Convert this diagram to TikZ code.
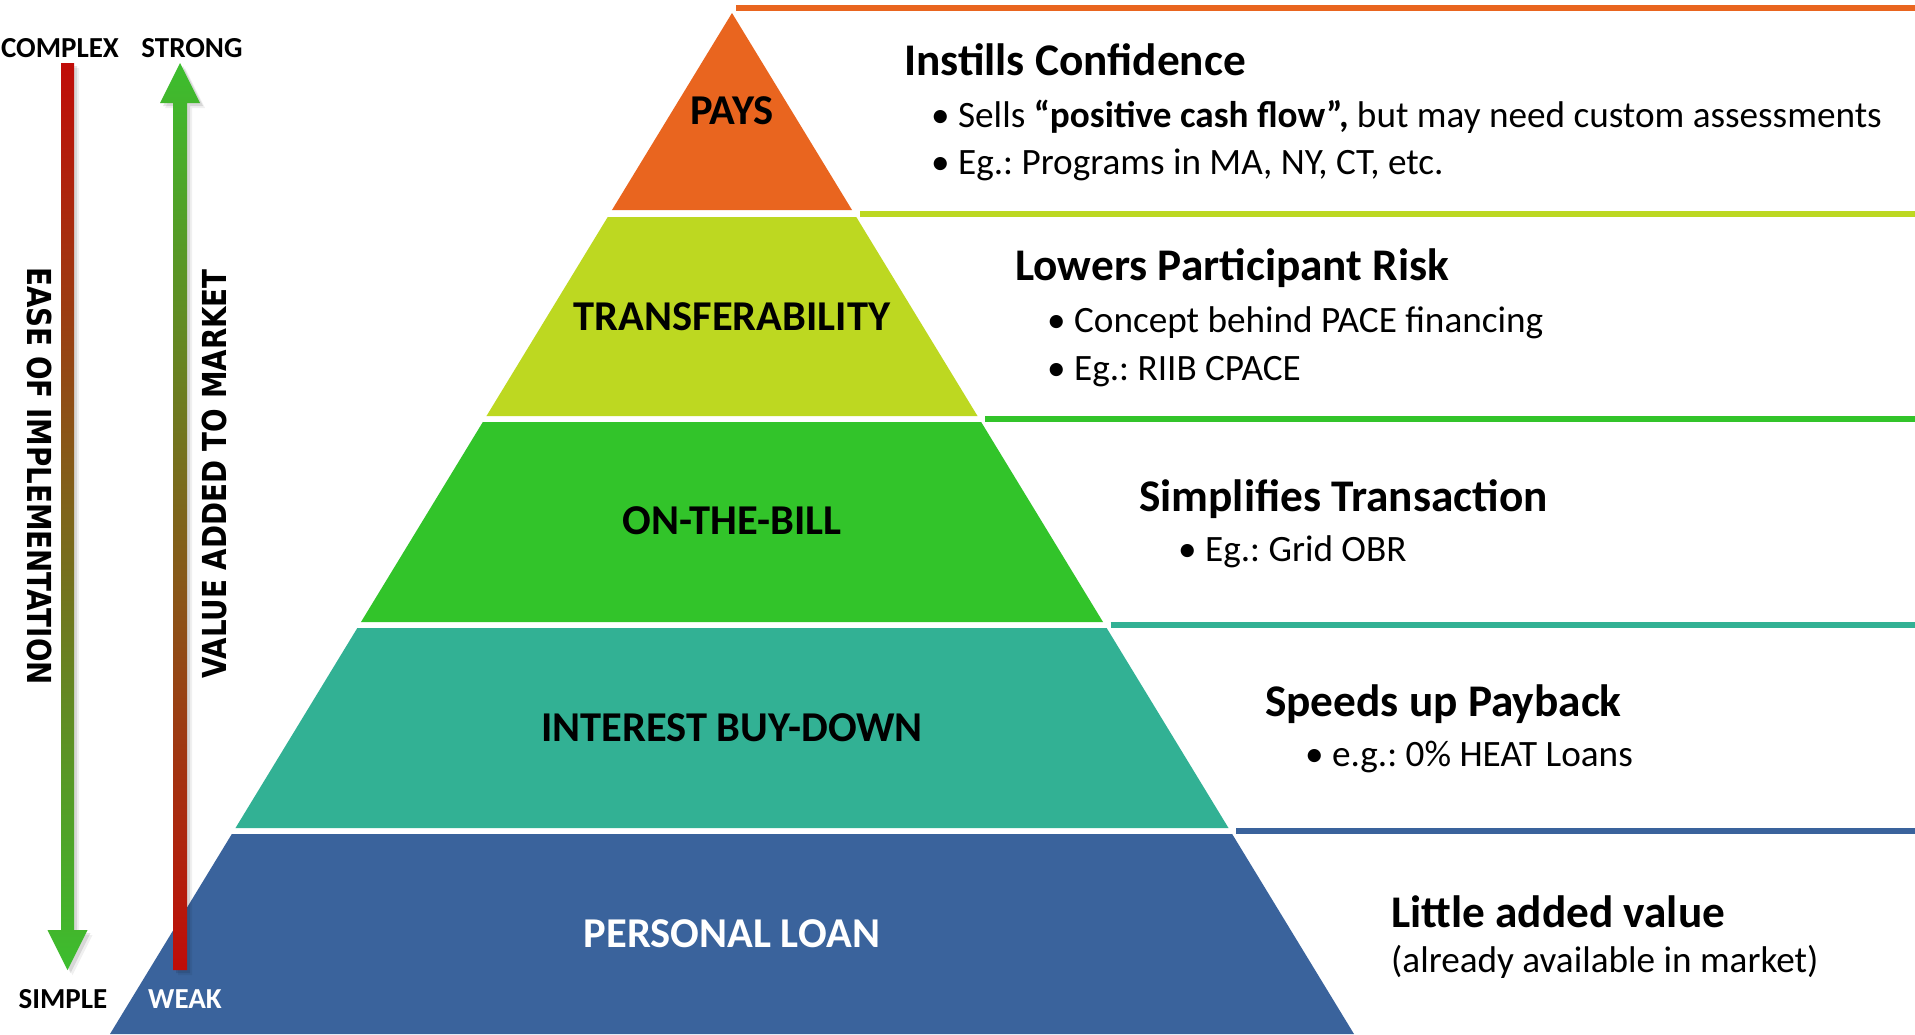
\documentclass[tikz,border=0pt]{standalone}
\usepackage{graphicx}
\usepackage{fontspec}
\setmainfont{Carlito}
\newfontfamily\dvs{DejaVu Sans}
\definecolor{cOrange}{RGB}{233,101,31}
\definecolor{cLime}{RGB}{189,216,33}
\definecolor{cGreen}{RGB}{50,196,42}
\definecolor{cTeal}{RGB}{50,177,148}
\definecolor{cBlue}{RGB}{58,99,156}
\definecolor{aRed}{RGB}{192,12,8}
\definecolor{aGreen}{RGB}{60,190,46}
\tikzset{
  lbl/.style={font=\fontsize{42.5}{50}\selectfont\bfseries, inner sep=0pt, anchor=base},
  headtxt/.style={font=\fontsize{45.3}{52}\selectfont\bfseries, inner sep=0pt, anchor=base west},
  bul/.style={font=\fontsize{37.2}{44}\selectfont, inner sep=0pt, anchor=base west},
  corner/.style={font=\fontsize{29}{34}\selectfont\bfseries, inner sep=0pt, anchor=base},
  vert/.style={font=\dvs\fontsize{33}{40}\selectfont\bfseries, inner sep=0pt},
  shadowA/.style={fill=black, opacity=0.10},
  shadowB/.style={fill=black, opacity=0.06},
}
\begin{document}
\frenchspacing
\begin{tikzpicture}[x=1pt,y=-1pt]
\useasboundingbox (0,0) rectangle (1915,1034);
\fill[white] (0,0) rectangle (1915,1034);

% pyramid layers and their right-hand rules
\foreach \col/\t/\b/\ly in {cOrange/13/210/8, cLime/217/416/214, cGreen/422/622/419, cTeal/628/828/625, cBlue/834/1034/831}{
  \pgfmathsetmacro\xlt{732-0.6092*(\t-13)}
  \pgfmathsetmacro\xrt{732+0.6092*(\t-13)}
  \pgfmathsetmacro\xlb{732-0.6092*(\b-13)}
  \pgfmathsetmacro\xrb{732+0.6092*(\b-13)}
  \fill[\col] (\xlt,\t) -- (\xrt,\t) -- (\xrb,\b) -- (\xlb,\b) -- cycle;
  \draw[\col, line width=6pt] (\xrt+4,\ly) -- (1915,\ly);
}

% pyramid labels
\node[lbl] (pays) at (732,124) {PAYS};
\node[lbl] (transf) at (732,330) {TRANSFERABILITY};
\node[lbl] (otb) at (732,534) {ON-THE-BILL};
\node[lbl] (ibd) at (732,741) {INTEREST BUY-DOWN};
\node[lbl, text=white] (pl) at (732,947) {PERSONAL LOAN};

% right-hand descriptions
\node[headtxt] (h1) at (904,75) {Instills Confidence};
\node[bul] (b11) at (931,127) {\textbullet\ Sells \textbf{“positive cash flow”,} but may need custom assessments};
\node[bul] (b12) at (931,174) {\textbullet\ Eg.: Programs in MA, NY, CT, etc.};
\node[headtxt] (h2) at (1015,280) {Lowers Participant Risk};
\node[bul] (b21) at (1047,332) {\textbullet\ Concept behind PACE financing};
\node[bul] (b22) at (1047,380) {\textbullet\ Eg.: RIIB CPACE};
\node[headtxt] (h3) at (1139,511) {Simplifies Transaction};
\node[bul] (b31) at (1178,561) {\textbullet\ Eg.: Grid OBR};
\node[headtxt] (h4) at (1265,716) {Speeds up Payback};
\node[bul] (b41) at (1305,766) {\textbullet\ e.g.: 0\% HEAT Loans};
\node[headtxt] (h5) at (1391,927) {Little added value};
\node[bul] (t51) at (1391,972) {(already available in market)};

% arrows: ease of implementation (down), value added (up)
\def\easepath{(61,63) -- (74,63) -- (74,930) -- (87.5,930) -- (67.5,970) -- (47.5,930) -- (61,930) -- cycle}
\def\valpath{(180,63) -- (200,103) -- (187,103) -- (187,970) -- (173,970) -- (173,103) -- (160,103) -- cycle}
\begin{scope}[shift={(5,5)}]
  \fill[shadowB] \easepath; \fill[shadowB] \valpath;
\end{scope}
\begin{scope}[shift={(3,3)}]
  \fill[shadowA] \easepath; \fill[shadowA] \valpath;
\end{scope}
\shade[top color=aRed, bottom color=aGreen] \easepath;
\shade[top color=aGreen, bottom color=aRed] \valpath;

% arrow labels
\node[corner] (complex) at (60,57) {COMPLEX};
\node[corner] (strong) at (192,57) {STRONG};
\node[corner] (simple) at (63,1008) {SIMPLE};
\node[corner, text=white] (weak) at (185,1008) {WEAK};
\node[vert, rotate=-90] (ease) at (40,476) {\scalebox{0.84}[1]{EASE OF IMPLEMENTATION}};
\node[vert, rotate=90] (value) at (214,474) {\scalebox{0.84}[1]{VALUE ADDED TO MARKET}};
\end{tikzpicture}
\end{document}
